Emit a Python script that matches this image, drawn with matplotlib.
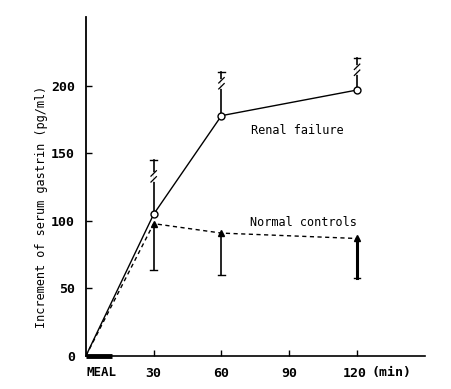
import matplotlib
matplotlib.use("Agg")
import matplotlib.pyplot as plt
from matplotlib.transforms import ScaledTranslation

# Data
times = [0, 30, 60, 120]
renal = [0, 105, 178, 197]
renal_upper = [0, 145, 210, 221]
normal = [0, 98, 91, 87]
normal_lower = [0, 64, 60, 58]
break_marks = [0, 133, 202, 212]
xtick_vals = [30, 60, 90, 120]
xtick_labels = ["30", "60", "90", "120"]
ytick_vals = [0, 50, 100, 150, 200]

font = "DejaVu Sans Mono"
plt.rcParams['font.family'] = [font]

fig = plt.figure(figsize=(4.52, 3.89), dpi=100)
ax = fig.add_axes([0.190, 0.085, 0.750, 0.871])
ax.set_xlim(0, 150)
ax.set_ylim(0, 251)

for s in ["top", "right"]:
    ax.spines[s].set_visible(False)
ax.spines["left"].set_linewidth(1.3)
ax.spines["bottom"].set_linewidth(1.2)

# Renal failure: solid line, open circles, upper error bars
ax.plot(times, renal, color="black", lw=1.0, zorder=3)
ax.plot(times[1:], renal[1:], "o", mfc="white", mec="black", ms=5, mew=1.0, zorder=4)
for t, v, u in zip(times[1:], renal[1:], renal_upper[1:]):
    ax.plot([t, t], [v, u], color="black", lw=1.2, zorder=2)
    ax.plot([t - 1.5, t + 1.5], [u, u], color="black", lw=1.0)
for t, b in zip(times[1:], break_marks[1:]):
    ax.plot([t, t], [b - 2.5, b + 2.5], color="white", lw=2, zorder=3)
    for dy in (-2.2, 2.2):
        ax.plot([t - 1.2, t + 1.2], [b + dy - 2.0, b + dy + 2.0], color="black", lw=0.9, zorder=4)

# Normal controls: dashed line, filled triangles, lower error bars
ax.plot(times, normal, color="black", lw=1.0, ls=(0, (3, 2.5)), zorder=3)
ax.plot(times[1:], normal[1:], "^", color="black", ms=5, zorder=4)
lws = [1.2, 1.2, 2.2]
for t, v, lo, w in zip(times[1:], normal[1:], normal_lower[1:], lws):
    ax.plot([t, t], [v, lo], color="black", lw=w, zorder=2)
    ax.plot([t - 1.5, t + 1.5], [lo, lo], color="black", lw=1.0)

# MEAL bar on x axis
ax.plot([0, 11.5], [0, 0], color="black", lw=3.5, solid_capstyle="butt", clip_on=False, zorder=5)

ax.set_xticks(xtick_vals)
ax.set_xticklabels(xtick_labels, fontsize=9.5, fontweight="bold")
ax.tick_params(axis="x", direction="in", length=4, width=1, pad=8)
labels = ax.get_xticklabels()
labels[-1].set_transform(labels[-1].get_transform() + ScaledTranslation(-2 / 72, 0, fig.dpi_scale_trans))
ax.set_yticks(ytick_vals)
ax.set_yticklabels([str(v) for v in ytick_vals], fontsize=9.5, fontweight="bold")
ax.tick_params(axis="y", direction="in", length=4, width=1, pad=8)

ax.text(7, -12.5, "MEAL", fontsize=9, fontweight="bold", ha="center", va="center", clip_on=False)
ax.text(126.5, -12.5, "(min)", fontsize=9.5, fontweight="bold", ha="left", va="center", clip_on=False)

ax.text(73, 167, "Renal failure", fontsize=8.6, ha="left", va="center")
ax.text(72.5, 99, "Normal controls", fontsize=8.6, ha="left", va="center")

ax.set_ylabel("Increment of serum gastrin (pg/ml)", fontsize=8.6)
ax.yaxis.set_label_coords(-0.113, 0.44)

fig.savefig("out.png", dpi=100)
